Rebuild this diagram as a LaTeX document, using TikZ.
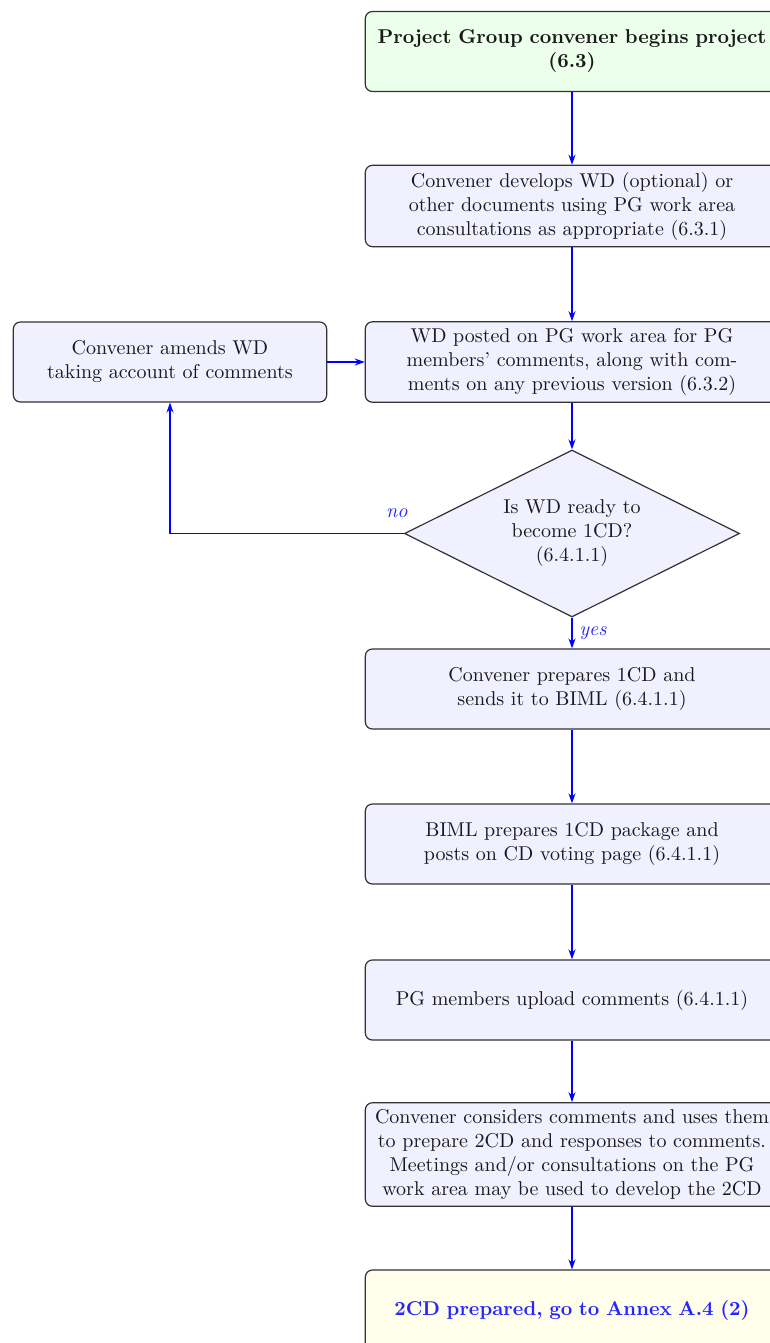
\documentclass[tikz,border=0pt]{standalone}
\usetikzlibrary{shapes.geometric,arrows.meta}
\begin{document}
\begin{tikzpicture}[x=0.5pt,y=-0.5pt,
  box/.style={draw=black!80, line width=0.6pt, rounded corners=3.5pt, fill=blue!6,
    text width=200pt, align=center, minimum height=40pt, inner sep=3.33pt, text=black!90},
  arr/.style={draw=blue, color=blue, line width=0.8pt, -{Stealth[length=5pt,width=3.5pt]}},
  lab/.style={text=blue!85, font=\itshape}]
\useasboundingbox (0,0) rectangle (770,1343);
\clip (0,0) rectangle (770,1343);

\node[box, fill=green!8, font=\bfseries] (start) at (572,51.5) {Project Group convener begins project\\(6.3)};
\node[box] (wd) at (572,206) {Convener develops WD (optional) or\\other documents using PG work area\\consultations as appropriate (6.3.1)};
\node[box] (post) at (572,362) {WD posted on PG work area for PG\\members' comments, along with com-\\ments on any previous version (6.3.2)};
\node[box, text width=150pt] (amend) at (170,362) {Convener amends WD\\taking account of comments};
\node[draw=black!80, line width=0.6pt, fill=blue!6, diamond, aspect=2, inner sep=0pt,
  minimum width=167.5pt, minimum height=83.5pt, align=center, text=black!90] (dec) at (572,533.5)
  {Is WD ready to\\become 1CD?\\(6.4.1.1)};
\node[box] (prep) at (572,689) {Convener prepares 1CD and\\sends it to BIML (6.4.1.1)};
\node[box] (biml) at (572,844) {BIML prepares 1CD package and\\posts on CD voting page (6.4.1.1)};
\node[box] (upload) at (572,1000) {PG members upload comments (6.4.1.1)};
\node[box] (consider) at (572,1154.5) {Convener considers comments and uses them\\to prepare 2CD and responses to comments.\\Meetings and/or consultations on the PG\\work area may be used to develop the 2CD};
\node[box, fill=yellow!8, font=\bfseries, text=blue!85] (end) at (572,1310) {2CD prepared, go to Annex A.4 (2)};

\coordinate (corner) at (dec.west -| amend.south);
\draw[arr] (dec.west) -- (corner) -- (amend.south);
\path (dec.west) ++(-7,-20) node[lab] (no) {no};
\draw[arr] (start) -- (wd);
\draw[arr] (wd) -- (post);
\draw[arr] (amend) -- (post);
\draw[arr] (post) -- (dec);
\draw[arr] (dec.south) -- node[lab, right] (yes) {yes} (prep.north);
\draw[arr] (prep) -- (biml);
\draw[arr] (biml) -- (upload);
\draw[arr] (upload) -- (consider);
\draw[arr] (consider) -- (end);
\end{tikzpicture}
\end{document}
